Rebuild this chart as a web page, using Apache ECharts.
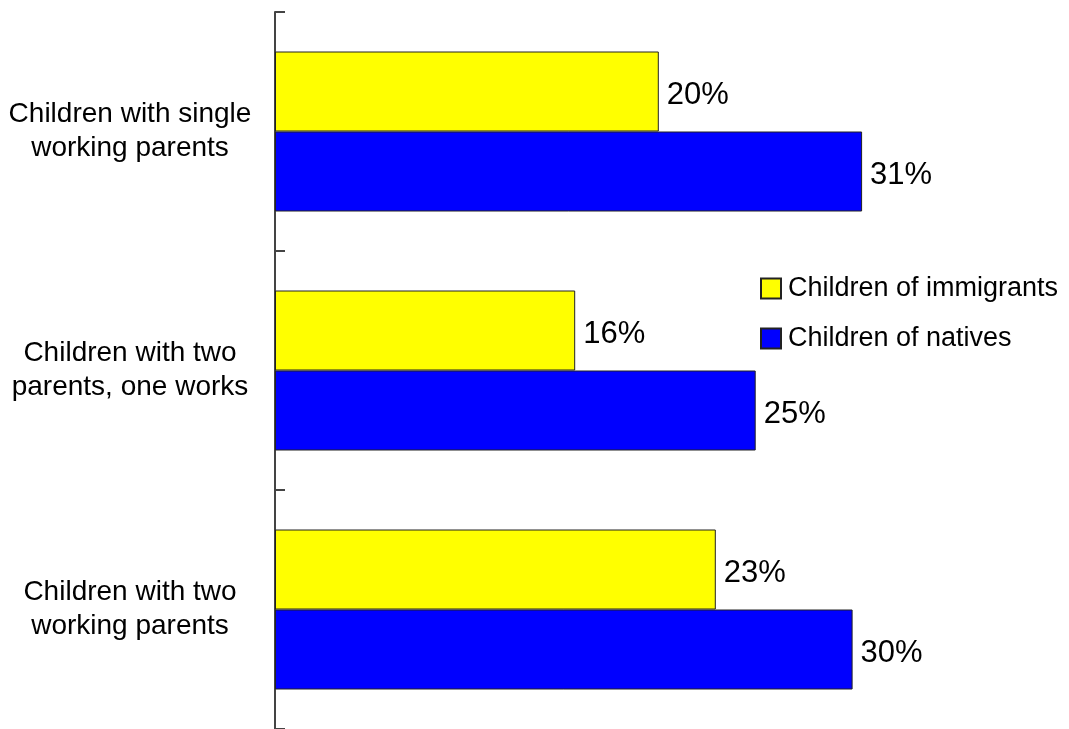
<!DOCTYPE html>
<html>
<head>
<meta charset="utf-8">
<script src="https://cdn.jsdelivr.net/npm/echarts@6/dist/echarts.min.js"></script>
<style>
html,body{margin:0;padding:0;background:#fff;}
#chart{width:1069px;height:729px;}
</style>
</head>
<body>
<div id="chart"></div>
<script>
const categories = ['Children with two\nworking parents', 'Children with two\nparents, one works', 'Children with single\nworking parents'];
const seriesNames = ['Children of immigrants', 'Children of natives'];
const immigrants = [23.2, 15.8, 20.2];
const natives = [30.4, 25.3, 30.9];

const FONT = "'Liberation Sans', Arial, sans-serif";
const chart = echarts.init(document.getElementById('chart'));

const labelOpt = {
  show: true,
  position: 'right',
  distance: 8,
  offset: [0, 4],
  color: '#000',
  fontFamily: FONT,
  fontSize: 31,
  formatter: p => Math.round(p.value) + '%'
};

chart.setOption({
  animation: false,
  backgroundColor: '#fff',
  grid: { left: 275, right: 129, top: 12, bottom: -3, containLabel: false },
  legend: {
    orient: 'vertical',
    left: 760,
    top: 275,
    padding: 0,
    itemWidth: 20,
    itemHeight: 20,
    itemGap: 23,
    icon: 'rect',
    textStyle: { fontFamily: FONT, fontSize: 27, color: '#000', padding: [3, 0, 0, 2] },
    data: seriesNames
  },
  xAxis: {
    type: 'value', min: 0, max: 35, show: false
  },
  yAxis: {
    type: 'category',
    data: categories,
    axisLine: { show: true, lineStyle: { color: '#444', width: 2 } },
    axisTick: { show: true, inside: true, length: 10, lineStyle: { color: '#444', width: 2 } },
    axisLabel: {
      margin: 145,
      align: 'center',
      color: '#000',
      fontFamily: FONT,
      fontSize: 28,
      lineHeight: 34,
      padding: [3, 0, 0, 0]
    },
    splitLine: { show: false }
  },
  series: [
    {
      name: seriesNames[0], type: 'bar', data: immigrants,
      barWidth: 80, barGap: '0%',
      itemStyle: { color: '#FFFF00', borderColor: '#222', borderWidth: 1 },
      label: labelOpt
    },
    {
      name: seriesNames[1], type: 'bar', data: natives,
      barWidth: 80, barGap: '0%',
      itemStyle: { color: '#0000FF', borderColor: '#222', borderWidth: 1 },
      label: labelOpt
    }
  ]
});
</script>
</body>
</html>
